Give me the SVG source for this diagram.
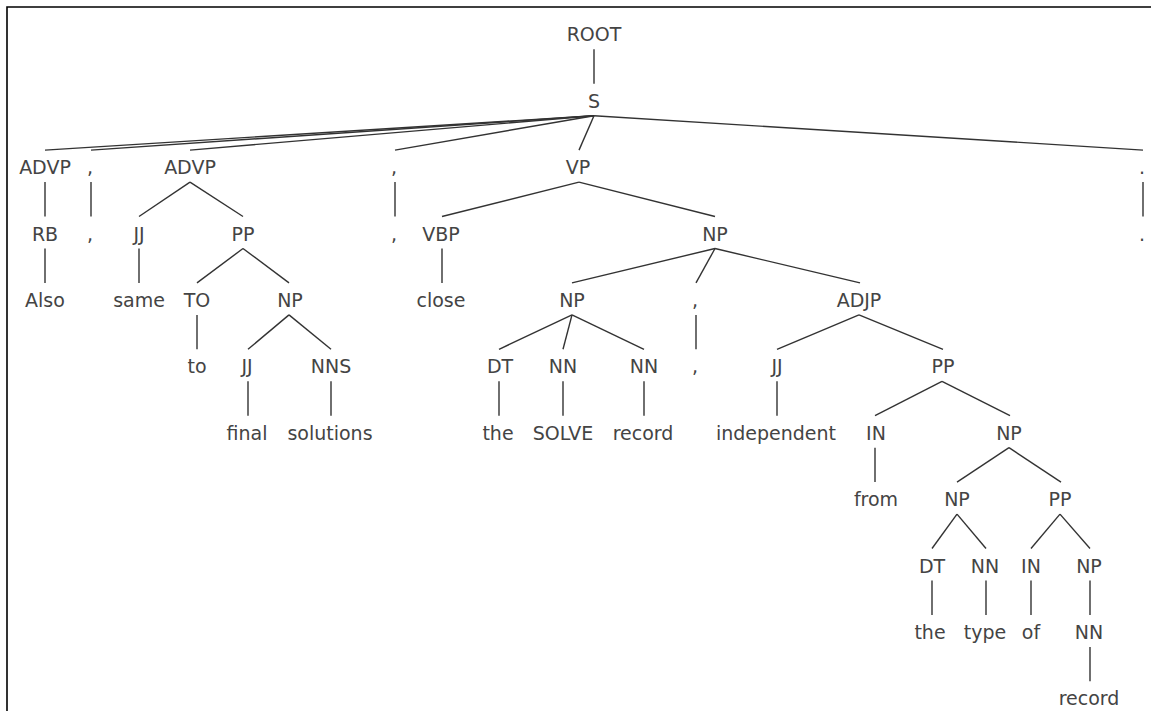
<svg xmlns="http://www.w3.org/2000/svg" width="1151" height="711" viewBox="0 0 1151 711">
<style>
text{font-family:"DejaVu Sans","Liberation Sans",sans-serif;font-size:19px;fill:#444;text-anchor:middle}
.e line{stroke:#333;stroke-width:1.4;fill:none}
.frame{stroke:#000;stroke-width:1.6;fill:none}
</style>
<rect width="1151" height="711" fill="#fff"/>
<path class="frame" d="M7,711 V7 H1151"/>
<g class="e" id="connectors">
<line x1="594" y1="49.3" x2="594" y2="83.7"/>
<line x1="594" y1="115.7" x2="45" y2="150.1"/>
<line x1="594" y1="115.7" x2="91" y2="150.1"/>
<line x1="594" y1="115.7" x2="190" y2="150.1"/>
<line x1="594" y1="115.7" x2="395" y2="150.1"/>
<line x1="594" y1="115.7" x2="579" y2="150.1"/>
<line x1="594" y1="115.7" x2="1143" y2="150.1"/>
<line x1="45" y1="182.1" x2="45" y2="216.5"/>
<line x1="91" y1="182.1" x2="91" y2="216.5"/>
<line x1="190" y1="182.1" x2="139" y2="216.5"/>
<line x1="190" y1="182.1" x2="243" y2="216.5"/>
<line x1="395" y1="182.1" x2="395" y2="216.5"/>
<line x1="579" y1="182.1" x2="442" y2="216.5"/>
<line x1="579" y1="182.1" x2="715" y2="216.5"/>
<line x1="1143" y1="182.1" x2="1143" y2="216.5"/>
<line x1="45" y1="248.5" x2="45" y2="282.9"/>
<line x1="139" y1="248.5" x2="139" y2="282.9"/>
<line x1="243" y1="248.5" x2="197" y2="282.9"/>
<line x1="243" y1="248.5" x2="289" y2="282.9"/>
<line x1="442" y1="248.5" x2="442" y2="282.9"/>
<line x1="715" y1="248.5" x2="572" y2="282.9"/>
<line x1="715" y1="248.5" x2="696" y2="282.9"/>
<line x1="715" y1="248.5" x2="860" y2="282.9"/>
<line x1="197" y1="314.9" x2="197" y2="349.3"/>
<line x1="289" y1="314.9" x2="248" y2="349.3"/>
<line x1="289" y1="314.9" x2="331" y2="349.3"/>
<line x1="572" y1="314.9" x2="499" y2="349.3"/>
<line x1="572" y1="314.9" x2="563" y2="349.3"/>
<line x1="572" y1="314.9" x2="644" y2="349.3"/>
<line x1="696" y1="314.9" x2="696" y2="349.3"/>
<line x1="859" y1="314.9" x2="777" y2="349.3"/>
<line x1="859" y1="314.9" x2="943" y2="349.3"/>
<line x1="248" y1="381.3" x2="248" y2="415.7"/>
<line x1="331" y1="381.3" x2="331" y2="415.7"/>
<line x1="499" y1="381.3" x2="499" y2="415.7"/>
<line x1="563" y1="381.3" x2="563" y2="415.7"/>
<line x1="644" y1="381.3" x2="644" y2="415.7"/>
<line x1="777" y1="381.3" x2="777" y2="415.7"/>
<line x1="942" y1="381.3" x2="875" y2="415.7"/>
<line x1="942" y1="381.3" x2="1010" y2="415.7"/>
<line x1="875" y1="447.7" x2="875" y2="482.1"/>
<line x1="1009" y1="447.7" x2="957" y2="482.1"/>
<line x1="1009" y1="447.7" x2="1061" y2="482.1"/>
<line x1="957" y1="514.1" x2="932" y2="548.5"/>
<line x1="957" y1="514.1" x2="986" y2="548.5"/>
<line x1="1060" y1="514.1" x2="1031" y2="548.5"/>
<line x1="1060" y1="514.1" x2="1090" y2="548.5"/>
<line x1="932" y1="580.5" x2="932" y2="614.9"/>
<line x1="986" y1="580.5" x2="986" y2="614.9"/>
<line x1="1031" y1="580.5" x2="1031" y2="614.9"/>
<line x1="1090" y1="580.5" x2="1090" y2="614.9"/>
<line x1="1090" y1="646.9" x2="1090" y2="681.3"/>
</g>
<g id="n-root"><text x="594" y="41.3">ROOT</text></g>
<g id="n-s"><text x="594" y="107.7">S</text></g>
<g id="n-advp1"><text x="45" y="174.1">ADVP</text></g>
<g id="n-comma1"><text x="90" y="174.1">,</text></g>
<g id="n-advp2"><text x="190" y="174.1">ADVP</text></g>
<g id="n-comma2"><text x="394" y="174.1">,</text></g>
<g id="n-vp"><text x="578" y="174.1">VP</text></g>
<g id="n-period"><text x="1142" y="174.1">.</text></g>
<g id="n-rb"><text x="45" y="240.5">RB</text></g>
<g id="w-comma1"><text x="90" y="240.5">,</text></g>
<g id="n-jj1"><text x="139" y="240.5">JJ</text></g>
<g id="n-pp1"><text x="243" y="240.5">PP</text></g>
<g id="w-comma2"><text x="394" y="240.5">,</text></g>
<g id="n-vbp"><text x="441" y="240.5">VBP</text></g>
<g id="n-np1"><text x="715" y="240.5">NP</text></g>
<g id="w-period"><text x="1142" y="240.5">.</text></g>
<g id="w-also"><text x="45" y="306.9">Also</text></g>
<g id="w-same"><text x="139" y="306.9">same</text></g>
<g id="n-to"><text x="197" y="306.9">TO</text></g>
<g id="n-np2"><text x="290" y="306.9">NP</text></g>
<g id="w-close"><text x="441" y="306.9">close</text></g>
<g id="n-np3"><text x="572" y="306.9">NP</text></g>
<g id="n-comma3"><text x="695" y="306.9">,</text></g>
<g id="n-adjp"><text x="859" y="306.9">ADJP</text></g>
<g id="w-to"><text x="197" y="373.3">to</text></g>
<g id="n-jj2"><text x="247" y="373.3">JJ</text></g>
<g id="n-nns"><text x="331" y="373.3">NNS</text></g>
<g id="n-dt1"><text x="500" y="373.3">DT</text></g>
<g id="n-nn1"><text x="563" y="373.3">NN</text></g>
<g id="n-nn2"><text x="644" y="373.3">NN</text></g>
<g id="w-comma3"><text x="695" y="373.3">,</text></g>
<g id="n-jj3"><text x="777" y="373.3">JJ</text></g>
<g id="n-pp2"><text x="943" y="373.3">PP</text></g>
<g id="w-final"><text x="247" y="439.7">final</text></g>
<g id="w-solutions"><text x="330" y="439.7">solutions</text></g>
<g id="w-the1"><text x="498" y="439.7">the</text></g>
<g id="w-solve"><text x="563" y="439.7">SOLVE</text></g>
<g id="w-record1"><text x="643" y="439.7">record</text></g>
<g id="w-independent"><text x="776" y="439.7">independent</text></g>
<g id="n-in1"><text x="876" y="439.7">IN</text></g>
<g id="n-np4"><text x="1009" y="439.7">NP</text></g>
<g id="w-from"><text x="876" y="506.1">from</text></g>
<g id="n-np5"><text x="957" y="506.1">NP</text></g>
<g id="n-pp3"><text x="1060" y="506.1">PP</text></g>
<g id="n-dt2"><text x="932" y="572.5">DT</text></g>
<g id="n-nn3"><text x="985" y="572.5">NN</text></g>
<g id="n-in2"><text x="1031" y="572.5">IN</text></g>
<g id="n-np6"><text x="1089" y="572.5">NP</text></g>
<g id="w-the2"><text x="930" y="638.9">the</text></g>
<g id="w-type"><text x="985" y="638.9">type</text></g>
<g id="w-of"><text x="1031" y="638.9">of</text></g>
<g id="n-nn4"><text x="1089" y="638.9">NN</text></g>
<g id="w-record2"><text x="1089" y="705.3">record</text></g>
</svg>
